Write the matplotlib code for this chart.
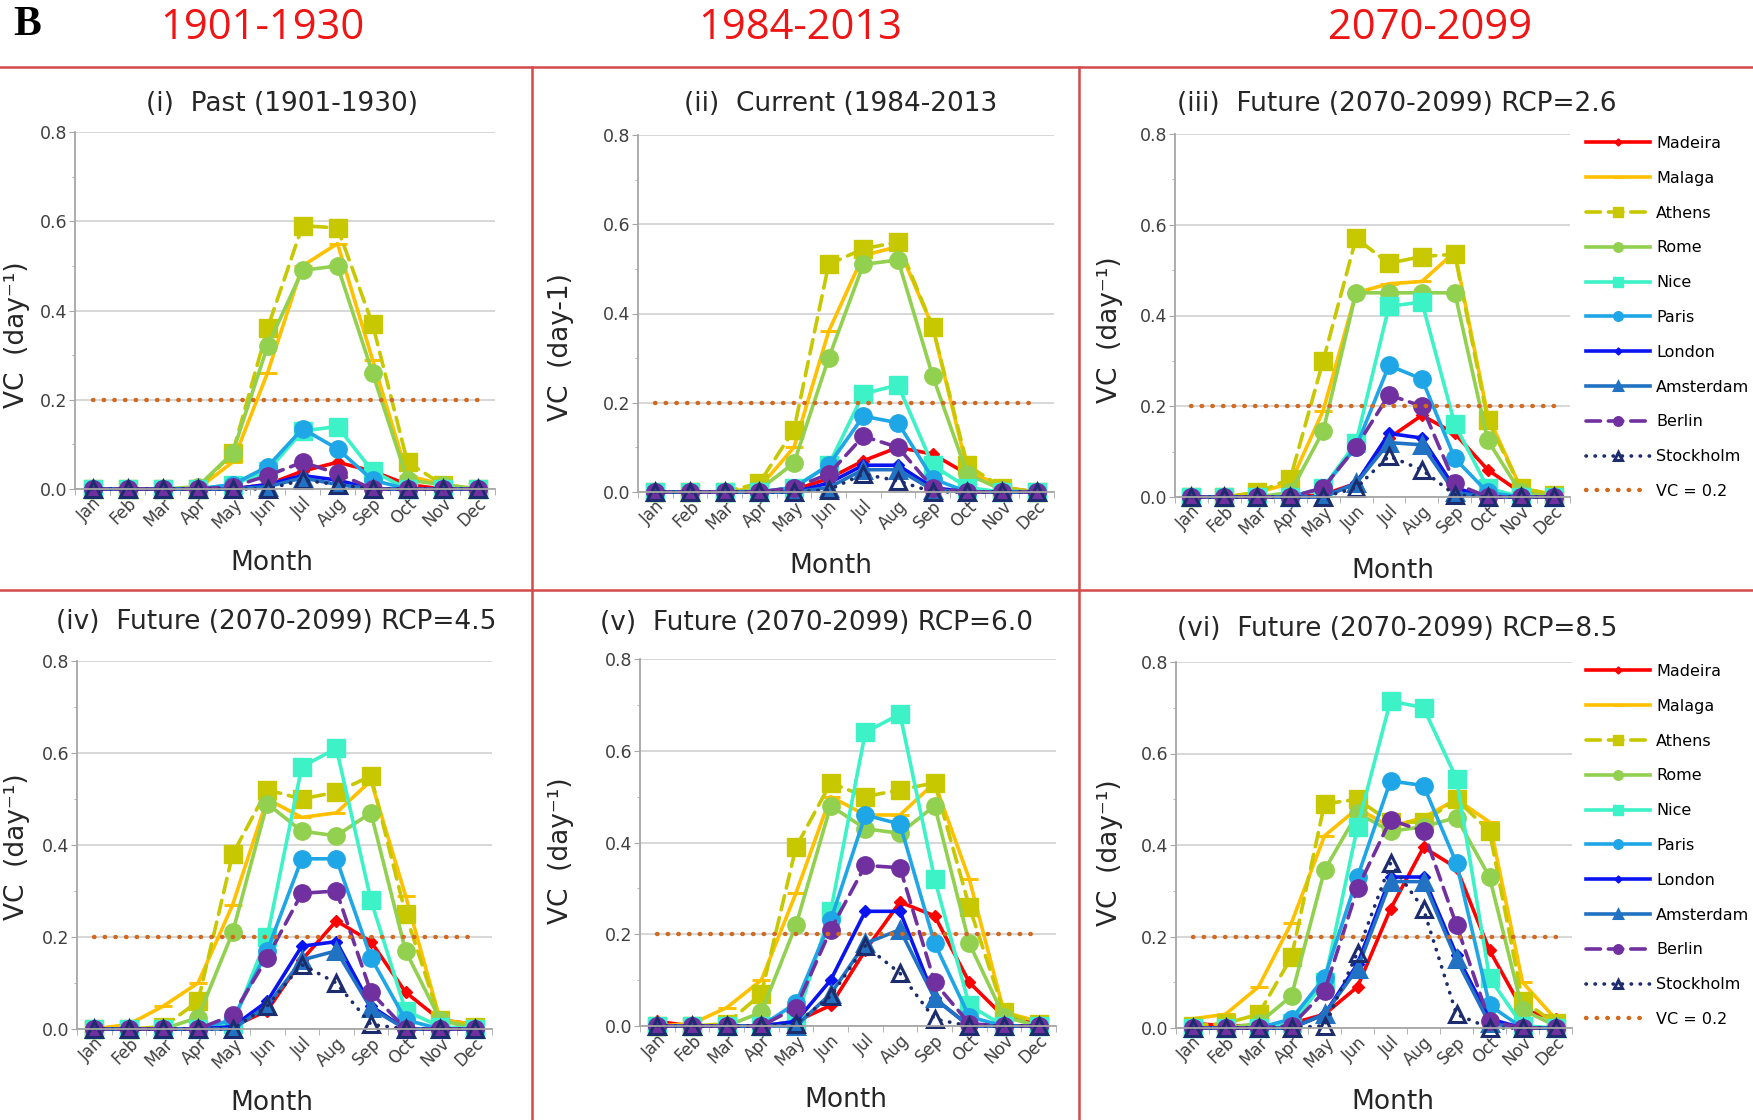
import numpy as np
import matplotlib
matplotlib.use("Agg")
import matplotlib.pyplot as plt
from matplotlib.lines import Line2D
from matplotlib.ticker import FixedLocator, FormatStrFormatter

W, H = 1753, 1120

months = ['Jan', 'Feb', 'Mar', 'Apr', 'May', 'Jun',
          'Jul', 'Aug', 'Sep', 'Oct', 'Nov', 'Dec']
cities = ['Madeira', 'Malaga', 'Athens', 'Rome', 'Nice',
          'Paris', 'London', 'Amsterdam', 'Berlin', 'Stockholm']

# VC values per city (rows follow `cities`), Jan..Dec
past = [
    [0, 0, 0, 0, 0, 0.01, 0.04, 0.06, 0.04, 0.01, 0, 0],
    [0, 0, 0, 0, 0.06, 0.26, 0.50, 0.55, 0.29, 0.03, 0.01, 0],
    [0, 0, 0, 0, 0.08, 0.36, 0.59, 0.585, 0.37, 0.06, 0.01, 0],
    [0, 0, 0, 0.005, 0.08, 0.32, 0.49, 0.50, 0.26, 0.02, 0.01, 0],
    [0, 0, 0, 0, 0.01, 0.04, 0.13, 0.14, 0.04, 0, 0, 0],
    [0, 0, 0, 0, 0.01, 0.05, 0.135, 0.09, 0.02, 0, 0, 0],
    [0, 0, 0, 0, 0, 0.01, 0.03, 0.02, 0, 0, 0, 0],
    [0, 0, 0, 0, 0, 0.005, 0.025, 0.01, 0, 0, 0, 0],
    [0, 0, 0, 0, 0.005, 0.03, 0.06, 0.035, 0, 0, 0, 0],
    [0, 0, 0, 0, 0, 0, 0.02, 0.01, 0, 0, 0, 0],
]
current = [
    [0, 0, 0, 0, 0.005, 0.03, 0.07, 0.10, 0.085, 0.04, 0.01, 0],
    [0, 0, 0, 0.01, 0.10, 0.36, 0.53, 0.55, 0.37, 0.05, 0.01, 0],
    [0, 0, 0, 0.02, 0.14, 0.51, 0.545, 0.56, 0.37, 0.06, 0.01, 0],
    [0, 0, 0, 0.005, 0.065, 0.30, 0.51, 0.52, 0.26, 0.04, 0.005, 0],
    [0, 0, 0, 0, 0.01, 0.06, 0.22, 0.24, 0.06, 0.01, 0, 0],
    [0, 0, 0, 0, 0.01, 0.06, 0.17, 0.155, 0.03, 0, 0, 0],
    [0, 0, 0, 0, 0, 0.02, 0.06, 0.06, 0.01, 0, 0, 0],
    [0, 0, 0, 0, 0, 0.01, 0.05, 0.05, 0.005, 0, 0, 0],
    [0, 0, 0, 0, 0.01, 0.04, 0.125, 0.10, 0.01, 0, 0, 0],
    [0, 0, 0, 0, 0, 0.005, 0.04, 0.025, 0, 0, 0, 0],
]
rcp26 = [
    [0, 0, 0, 0, 0.005, 0.03, 0.13, 0.18, 0.14, 0.06, 0.01, 0.005],
    [0, 0, 0.01, 0.03, 0.19, 0.45, 0.47, 0.475, 0.54, 0.18, 0.02, 0.005],
    [0, 0, 0.01, 0.04, 0.30, 0.57, 0.515, 0.53, 0.535, 0.17, 0.02, 0.005],
    [0, 0, 0, 0.01, 0.145, 0.45, 0.45, 0.45, 0.45, 0.125, 0.01, 0],
    [0, 0, 0, 0, 0.02, 0.12, 0.42, 0.43, 0.16, 0.02, 0, 0],
    [0, 0, 0, 0, 0.02, 0.11, 0.29, 0.26, 0.085, 0.01, 0, 0],
    [0, 0, 0, 0, 0, 0.03, 0.14, 0.13, 0.02, 0, 0, 0],
    [0, 0, 0, 0, 0, 0.03, 0.12, 0.115, 0.01, 0, 0, 0],
    [0, 0, 0, 0, 0.02, 0.11, 0.225, 0.20, 0.03, 0, 0, 0],
    [0, 0, 0, 0, 0, 0.02, 0.09, 0.06, 0.005, 0, 0, 0],
]
rcp45 = [
    [0, 0, 0, 0, 0.005, 0.04, 0.15, 0.235, 0.19, 0.08, 0.02, 0.01],
    [0, 0.01, 0.05, 0.10, 0.27, 0.50, 0.46, 0.47, 0.54, 0.29, 0.02, 0.01],
    [0, 0, 0.005, 0.06, 0.38, 0.52, 0.50, 0.515, 0.55, 0.25, 0.02, 0.005],
    [0, 0, 0, 0.025, 0.21, 0.49, 0.43, 0.42, 0.47, 0.17, 0.02, 0],
    [0, 0, 0, 0, 0.01, 0.20, 0.57, 0.61, 0.28, 0.04, 0.005, 0],
    [0, 0, 0, 0, 0.02, 0.17, 0.37, 0.37, 0.155, 0.02, 0, 0],
    [0, 0, 0, 0, 0.005, 0.06, 0.18, 0.19, 0.05, 0, 0, 0],
    [0, 0, 0, 0, 0, 0.05, 0.15, 0.17, 0.045, 0, 0, 0],
    [0, 0, 0, 0, 0.03, 0.155, 0.295, 0.30, 0.08, 0, 0, 0],
    [0, 0, 0, 0, 0, 0.05, 0.14, 0.10, 0.01, 0, 0, 0],
]
rcp60 = [
    [0.01, 0, 0, 0, 0.01, 0.045, 0.165, 0.27, 0.24, 0.095, 0.02, 0.01],
    [0, 0.005, 0.04, 0.10, 0.29, 0.50, 0.46, 0.46, 0.53, 0.32, 0.03, 0.01],
    [0, 0, 0.005, 0.07, 0.39, 0.53, 0.50, 0.515, 0.53, 0.26, 0.03, 0.005],
    [0, 0, 0, 0.03, 0.22, 0.48, 0.43, 0.42, 0.48, 0.18, 0.02, 0],
    [0, 0, 0, 0, 0.01, 0.25, 0.64, 0.68, 0.32, 0.045, 0, 0],
    [0, 0, 0, 0, 0.05, 0.23, 0.46, 0.44, 0.18, 0.02, 0, 0],
    [0, 0, 0, 0, 0.01, 0.10, 0.25, 0.25, 0.06, 0, 0, 0],
    [0, 0, 0, 0, 0, 0.07, 0.18, 0.21, 0.06, 0, 0, 0],
    [0, 0, 0, 0, 0.04, 0.21, 0.35, 0.345, 0.095, 0.005, 0, 0],
    [0, 0, 0, 0, 0.005, 0.065, 0.175, 0.115, 0.015, 0, 0, 0],
]
rcp85 = [
    [0.01, 0.005, 0.005, 0.01, 0.03, 0.09, 0.26, 0.395, 0.35, 0.17, 0.04, 0.02],
    [0.02, 0.03, 0.09, 0.23, 0.42, 0.48, 0.44, 0.46, 0.50, 0.45, 0.10, 0.02],
    [0.005, 0.01, 0.03, 0.155, 0.49, 0.50, 0.45, 0.45, 0.50, 0.43, 0.06, 0.01],
    [0, 0, 0.01, 0.07, 0.345, 0.47, 0.43, 0.44, 0.46, 0.33, 0.04, 0.005],
    [0, 0, 0, 0.01, 0.10, 0.44, 0.715, 0.70, 0.545, 0.11, 0.005, 0],
    [0, 0, 0, 0.02, 0.11, 0.33, 0.54, 0.53, 0.36, 0.05, 0, 0],
    [0, 0, 0, 0, 0.03, 0.14, 0.33, 0.33, 0.16, 0.02, 0, 0],
    [0, 0, 0, 0, 0.03, 0.13, 0.32, 0.32, 0.15, 0.01, 0, 0],
    [0, 0, 0, 0.005, 0.08, 0.305, 0.455, 0.43, 0.225, 0.015, 0, 0],
    [0, 0, 0, 0, 0.005, 0.165, 0.36, 0.26, 0.03, 0, 0, 0],
]
vc_level = 0.2

panel_data = [past, current, rcp26, rcp45, rcp60, rcp85]
panel_titles = ['(i)  Past (1901-1930)', '(ii)  Current (1984-2013',
                '(iii)  Future (2070-2099) RCP=2.6',
                '(iv)  Future (2070-2099) RCP=4.5',
                '(v)  Future (2070-2099) RCP=6.0',
                '(vi)  Future (2070-2099) RCP=8.5']
ylabels = ['VC  (day⁻¹)', 'VC  (day-1)', 'VC  (day⁻¹)',
           'VC  (day⁻¹)', 'VC  (day⁻¹)', 'VC  (day⁻¹)']
periods = ['1901-1930', '1984-2013', '2070-2099']

colors = ['#FF0000', '#FFC000', '#C8C800', '#92D050', '#3DF2C6',
          '#1EA6E6', '#0A14F0', '#2272C3', '#7030A0', '#1C2C6C']
markers = ['D', '_', 's', 'o', 's', 'o', 'D', '^', 'o', '^']
msizes = [6.5, 13, 12.5, 12.5, 12.5, 12.5, 6.5, 11, 12.5, 11]
dashed = (0, (4, 2.2))
dotted = (0, (0.1, 2.4))
lstyles = ['-', '-', dashed, '-', '-', '-', '-', '-', dashed, dotted]
vc_color = '#D2691E'

# layout in pixels: left, right, top, bottom of plot area
boxes = [(75, 495, 132, 489), (638, 1054, 135, 492), (1175, 1570, 134, 497),
         (77, 492, 661, 1029), (640, 1056, 659, 1026), (1176, 1572, 662, 1028)]
title_pos = [(282, 104), (841, 104), (1397, 104),
             (276, 622), (817, 623), (1397, 629)]
xlabel_x = [272, 831, 1393, 272, 846, 1393]
# y label: right edge x and centre y, pixels
ylabel_pos = [(30, 335), (574, 347), (1123, 330),
              (30, 847), (574, 851), (1123, 853)]

fig = plt.figure(figsize=(W / 100, H / 100), dpi=100)
x = np.arange(12)
axis_grey = '#A6A6A6'

for k, (data, box) in enumerate(zip(panel_data, boxes)):
    L, R, T, B = box
    ax = fig.add_axes([L / W, 1 - B / H, (R - L) / W, (B - T) / H])
    for i, name in enumerate(cities):
        ax.plot(x, data[i], color=colors[i], ls=lstyles[i], lw=2.6,
                marker=markers[i], ms=msizes[i],
                mfc='none' if name == 'Stockholm' else colors[i],
                mec=colors[i], mew=2.2 if markers[i] in ('_', '^') else 1,
                dash_capstyle='round', clip_on=False, label=name)
    ax.plot(x, np.full(12, vc_level), color=vc_color, ls=(0, (0.1, 2.3)),
            lw=3.2, dash_capstyle='round', label='VC = 0.2')

    ax.set_xlim(-0.5, 11.5)
    ax.set_ylim(0, 0.8)
    ax.set_yticks([0, 0.2, 0.4, 0.6, 0.8])
    ax.yaxis.set_minor_locator(FixedLocator([0.1, 0.3, 0.5, 0.7]))
    ax.yaxis.set_major_formatter(FormatStrFormatter('%.1f'))
    ax.set_xticks(x)
    ax.set_xticklabels(months, rotation=45, ha='right',
                       rotation_mode='anchor', fontsize=12, color='#404040')
    ax.xaxis.set_minor_locator(FixedLocator(np.arange(-0.5, 12, 1)))
    ax.tick_params(axis='x', which='major', length=0, pad=4)
    ax.tick_params(axis='x', which='minor', length=4, color=axis_grey)
    ax.tick_params(axis='y', which='major', length=4, color=axis_grey,
                   labelsize=12.5, labelcolor='#404040', pad=1.5)
    ax.tick_params(axis='y', which='minor', length=2.5, color=axis_grey)
    ax.yaxis.grid(True, color='#D4D4D4', lw=1.3)
    ax.set_axisbelow(True)
    for s in ('top', 'right'):
        ax.spines[s].set_visible(False)
    for s in ('left', 'bottom'):
        ax.spines[s].set_color(axis_grey)
        ax.spines[s].set_linewidth(1.3)

    lx, ly = ylabel_pos[k]
    ax.set_ylabel(ylabels[k], fontsize=19, color='#262626')
    ax.yaxis.set_label_coords((lx - L) / (R - L), (B - ly) / (B - T))
    fig.text(xlabel_x[k] / W, 1 - (B + 74) / H, 'Month', fontsize=19,
             color='#262626', ha='center', va='center')
    tx, ty = title_pos[k]
    fig.text(tx / W, 1 - ty / H, panel_titles[k], fontsize=19,
             color='#262626', ha='center', va='center')

    if k in (2, 5):
        ax.legend(loc='upper left',
                  bbox_to_anchor=(1586 / W, 1 - (T + 2) / H),
                  bbox_transform=fig.transFigure, frameon=False,
                  fontsize=11.5, handlelength=4, handletextpad=0.4,
                  labelspacing=1.24, borderpad=0, borderaxespad=0,
                  markerscale=0.55)

# red frame around the panels
frame = '#D24A4A'
for (x0, y0, x1, y1) in [(0, 67, W, 67), (0, 590, W, 590),
                         (532, 67, 532, H), (1079, 67, 1079, H)]:
    fig.add_artist(Line2D([x0 / W, x1 / W], [1 - y0 / H, 1 - y1 / H],
                          color=frame, lw=1.8, transform=fig.transFigure))

fig.text(13 / W, 1 - 25 / H, 'B', fontsize=30, fontweight='bold',
         family='Liberation Serif', va='center', ha='left')
for cx, label in zip([262, 800, 1430], periods):
    fig.text(cx / W, 1 - 28 / H, label, fontsize=30, color='#F01414',
             family='Open Sans', ha='center', va='center')

fig.savefig('out.png', dpi=100)
